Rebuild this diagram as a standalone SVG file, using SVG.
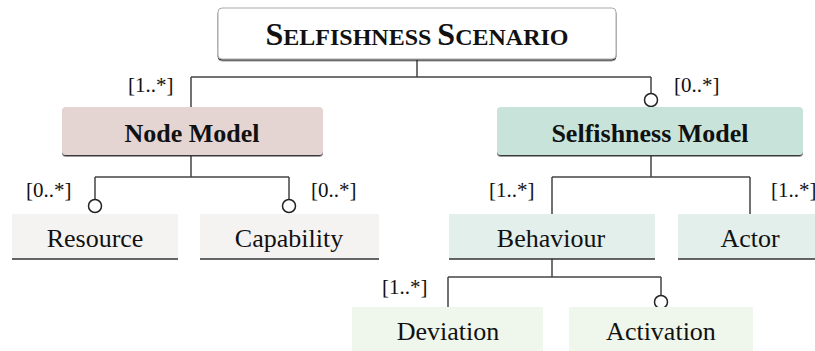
<svg xmlns="http://www.w3.org/2000/svg" width="815" height="351" viewBox="0 0 815 351" font-family="'Liberation Serif', 'DejaVu Serif', Tinos, 'Times New Roman', serif">
<style>
text{font-family:"Liberation Serif","DejaVu Serif",Tinos,"Times New Roman",Times,serif;fill:#111}
.hd{font-weight:bold;font-size:26px;text-anchor:middle}
.lf{font-size:26px;text-anchor:middle}
.m{font-size:21px}
.c{fill:none;stroke:#444;stroke-width:1.5}
.o{fill:#fff;stroke:#222;stroke-width:1.5}
.bl{stroke:#333;stroke-width:1.5}
</style>
<defs>
<filter id="sh" x="-5%" y="-20%" width="110%" height="150%">
<feDropShadow dx="0" dy="1.5" stdDeviation="0.7" flood-color="#222" flood-opacity="0.9"/>
</filter>
</defs>
<g id="connectors">
<path class="c" d="M417 59V77M191 77H651M191 77V107M651 77V93"/>
<path class="c" d="M191 156V177M95 177H289M95 177V199M289 177V199"/>
<path class="c" d="M651 156V177M552 177H750M552 177V214M750 177V214"/>
<path class="c" d="M552 259V277M448 277H661M448 277V307M661 277V295"/>
<circle class="o" cx="651" cy="100" r="6.5"/>
<circle class="o" cx="95" cy="206" r="6.5"/>
<circle class="o" cx="289" cy="206" r="6.5"/>
<circle class="o" cx="661" cy="302" r="6.5"/>
<text class="m" x="128" y="92">[1..*]</text>
<text class="m" x="674" y="92">[0..*]</text>
<text class="m" x="26" y="197">[0..*]</text>
<text class="m" x="311" y="197">[0..*]</text>
<text class="m" x="489" y="197">[1..*]</text>
<text class="m" x="771" y="197">[1..*]</text>
<text class="m" x="382" y="294">[1..*]</text>
</g>
<g id="scenario">
<rect x="218" y="8" width="398" height="51" rx="4" fill="#fff" stroke="#aaa" stroke-width="1" filter="url(#sh)"/>
<text x="417" y="45" text-anchor="middle" font-weight="bold" font-size="32">S<tspan font-size="24">ELFISHNESS </tspan>S<tspan font-size="24">CENARIO</tspan></text>
</g>
<g id="node-model">
<rect x="62" y="107" width="261" height="48" rx="4" fill="#e4d5d3" filter="url(#sh)"/>
<text class="hd" x="192" y="142">Node Model</text>
</g>
<g id="selfishness-model">
<rect x="497" y="107" width="306" height="48" rx="4" fill="#c8e4da" filter="url(#sh)"/>
<text class="hd" x="650" y="142">Selfishness Model</text>
</g>
<g id="resource">
<rect x="12" y="214" width="166" height="45" fill="#f5f3f1"/>
<line class="bl" x1="12" y1="259" x2="178" y2="259"/>
<text class="lf" x="95" y="247">Resource</text>
</g>
<g id="capability">
<rect x="200" y="214" width="179" height="45" fill="#f5f3f1"/>
<line class="bl" x1="200" y1="259" x2="379" y2="259"/>
<text class="lf" x="289" y="247">Capability</text>
</g>
<g id="behaviour">
<rect x="449" y="214" width="206" height="45" fill="#e3efeb"/>
<line class="bl" x1="449" y1="259" x2="655" y2="259"/>
<text class="lf" x="551" y="247">Behaviour</text>
</g>
<g id="actor">
<rect x="678" y="214" width="140" height="45" fill="#e3efeb"/>
<line class="bl" x1="678" y1="259" x2="815" y2="259"/>
<text class="lf" x="750" y="247">Actor</text>
</g>
<g id="deviation">
<rect x="352" y="307" width="191" height="44" fill="#eff6ec"/>
<text class="lf" x="448" y="340">Deviation</text>
</g>
<g id="activation">
<rect x="569" y="307" width="184" height="44" fill="#eff6ec"/>
<text class="lf" x="661" y="340">Activation</text>
</g>
</svg>
